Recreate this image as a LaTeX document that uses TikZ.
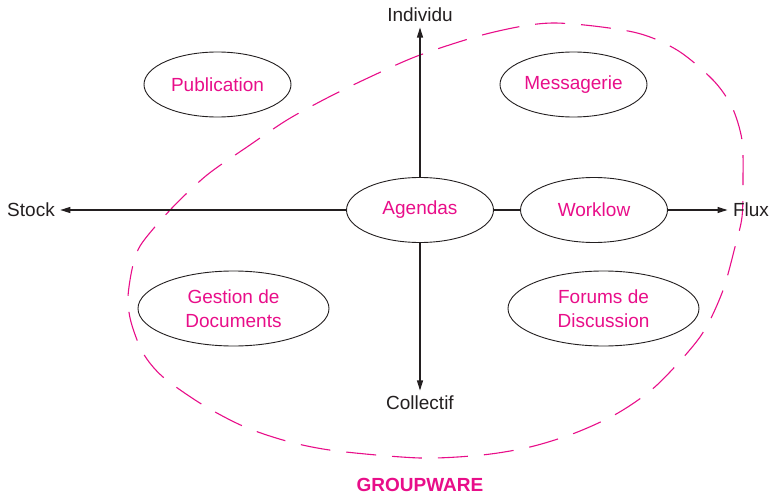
\documentclass[tikz,border=0pt]{standalone}
\usepackage{fontspec}
\setmainfont{Liberation Sans}
\usepackage{tikz}
\definecolor{rose}{RGB}{232,14,137}
\definecolor{encre}{HTML}{231F20}
\usetikzlibrary{arrows.meta,shapes.geometric}
\tikzstyle{bulle}=[ellipse, draw=encre, line width=0.9pt, text=rose, inner sep=0pt, minimum width=147pt, minimum height=65pt, align=center]
\tikzstyle{axe}=[text=encre, inner sep=5pt]

\begin{document}
\begin{tikzpicture}[x=1pt, y=-1pt, font=\fontsize{19}{24}\selectfont, line width=1.1pt, >={Triangle[length=10pt, width=6pt]}]
			\useasboundingbox (0,0) rectangle (769,495);
			% le groupware
			\draw[rose, dash pattern=on 30pt off 16pt] plot[smooth cycle] coordinates {
				(420,55) (490,33) (553,23) (633,32) (677,50) (713,80) (732,107)
				(742,140) (743,180) (742,217) (735,247) (722,293) (700,337)
				(657,385) (618,413) (575,433) (530,447) (482,455) (420,458)
				(337,451) (290,442) (245,427) (203,405) (163,377) (143,353)
				(131,322) (128,297) (133,265) (142,243) (172,208) (207,175)
				(247,147) (287,120) (327,98) (370,77)};
			\node[bulle] (agendas) at (420,210) {Agendas};
			\node[bulle] (worklow) at (594,210) {Worklow};
			\node[bulle] (publication) at (217.5,84.5) {Publication};
			\node[bulle] (messagerie) at (573.5,84.5) {Messagerie};
			\node[bulle, minimum width=191pt, minimum height=75pt] (gestion) at (233.5,308.5) {Gestion de\\Documents};
			\node[bulle, minimum width=191pt, minimum height=75pt] (forums) at (603.5,308.5) {Forums de\\Discussion};
			\node[axe] (individu) at (420,15) {Individu};
			\node[axe] (collectif) at (420,403) {Collectif};
			\node[axe] (stock) at (31,210) {Stock};
			\node[axe] (flux) at (751,210) {Flux};
			\node[text=rose, inner sep=1pt, font=\fontsize{19}{24}\selectfont\bfseries] (groupware) at (420,485) {GROUPWARE};
			\path[draw=encre] (agendas)--(worklow);
			\path[draw=encre, ->] (agendas)--(individu);
			\path[draw=encre, ->] (agendas)--(collectif);
			\path[draw=encre, ->] (agendas)--(stock);
			\path[draw=encre, ->] (worklow)--(flux);
		\end{tikzpicture}
\end{document}
